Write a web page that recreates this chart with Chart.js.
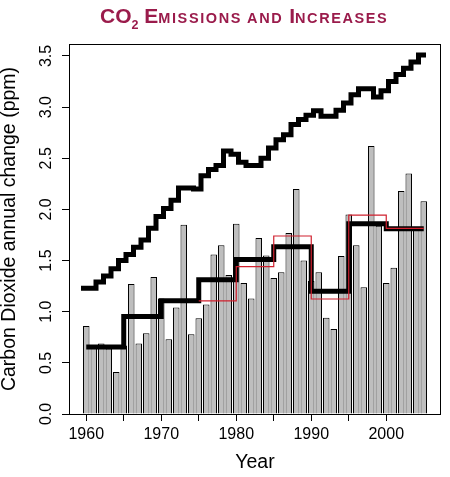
<!DOCTYPE html>
<html>
<head>
<meta charset="utf-8">
<script src="https://cdn.jsdelivr.net/npm/chart.js@4/dist/chart.umd.min.js"></script>
<style>
  html, body { margin: 0; padding: 0; background: #fff; }
  #wrap { position: relative; width: 450px; height: 477px; }
  #title {
    position: absolute; left: 100px; top: 5px;
    font: bold 21px "Liberation Sans", Arial, sans-serif;
    line-height: 21px; color: #9a1b4b; white-space: nowrap;
  }
  #title sub { font-size: 12.5px; vertical-align: -6px; line-height: 0; }
  #title .sc { font-size: 14.5px; text-transform: uppercase; letter-spacing: 1.6px; }
  canvas { position: absolute; left: 0; top: 0; }
</style>
</head>
<body>
<div id="wrap">
  <canvas id="c" width="450" height="477"></canvas>
  <div id="title">CO<sub>2</sub> E<span class="sc">missions and</span> I<span class="sc">ncreases</span></div>
</div>
<script>
// years of the annual record
var years = [1960, 1961, 1962, 1963, 1964, 1965, 1966, 1967, 1968, 1969,
             1970, 1971, 1972, 1973, 1974, 1975, 1976, 1977, 1978, 1979,
             1980, 1981, 1982, 1983, 1984, 1985, 1986, 1987, 1988, 1989,
             1990, 1991, 1992, 1993, 1994, 1995, 1996, 1997, 1998, 1999,
             2000, 2001, 2002, 2003, 2004, 2005];

// annual CO2 increase (ppm) - the grey bars
var increase = [0.86, 0.65, 0.69, 0.64, 0.41, 0.67, 1.27, 0.69, 0.79, 1.34,
                1.13, 0.73, 1.04, 1.85, 0.78, 0.935, 1.07, 1.56, 1.65, 1.36,
                1.86, 1.28, 1.13, 1.72, 1.55, 1.33, 1.385, 1.77, 2.20, 1.50,
                1.30, 1.385, 0.94, 0.83, 1.545, 1.95, 1.65, 1.24, 2.62, 1.84,
                1.28, 1.43, 2.18, 2.35, 1.81, 2.08];

// emissions, scaled to ppm - the upper staircase
var emissions = [1.23, 1.23, 1.29, 1.35, 1.42, 1.50, 1.56, 1.63, 1.70, 1.815,
                 1.93, 2.01, 2.09, 2.21, 2.21, 2.20, 2.33, 2.39, 2.43, 2.57,
                 2.54, 2.46, 2.43, 2.43, 2.50, 2.60, 2.68, 2.73, 2.83, 2.88,
                 2.92, 2.965, 2.91, 2.91, 2.97, 3.04, 3.12, 3.18, 3.18, 3.10,
                 3.16, 3.25, 3.32, 3.38, 3.44, 3.51];

// five year means of the increase (thick black steps)
var periodStarts = [1960, 1965, 1970, 1975, 1980, 1985, 1990, 1995, 2000];
var periodEnd = 2005;
var periodMeans = [0.655, 0.952, 1.107, 1.313, 1.51, 1.635, 1.20, 1.86, 1.81];

// red steps
var redStarts = [1975, 1980, 1985, 1990, 1995, 2000];
var redValues = [1.105, 1.44, 1.74, 1.124, 1.945, 1.815];

var xTickValues = [1960, 1965, 1970, 1975, 1980, 1985, 1990, 1995, 2000];
var xTickLabels = ['1960', '', '1970', '', '1980', '', '1990', '', '2000'];
var yTickValues = [0, 0.5, 1, 1.5, 2, 2.5, 3, 3.5];
var yTickLabels = ['0.0', '0.5', '1.0', '1.5', '2.0', '2.5', '3.0', '3.5'];

var FONT = '"Liberation Sans", Arial, sans-serif';
var emisShift = -0.7;   // the emission steps sit a bit left of the bars

function steps(xs, ys, xEnd) {
  var pts = xs.map(function (x, i) { return {x: x, y: ys[i]}; });
  pts.push({x: xEnd, y: ys[ys.length - 1]});
  return pts;
}

var barPts = years.map(function (y, i) { return {x: y, y: increase[i]}; });
var emisPts = steps(years.map(function (y) { return y + emisShift; }), emissions,
                    years[years.length - 1] + 1 + emisShift);
var meanPts = steps(periodStarts, periodMeans, periodEnd);
var redPts = steps(redStarts, redValues, periodEnd);

// box round the plot and the upright y labels, R style
var framePlugin = {
  id: 'frame',
  afterDraw: function (chart) {
    var ctx = chart.ctx, a = chart.chartArea, ys = chart.scales.y;
    ctx.save();
    ctx.strokeStyle = '#000';
    ctx.lineWidth = 1;
    ctx.strokeRect(Math.round(a.left) + 0.5, Math.round(a.top) + 0.5,
                   Math.round(a.right - a.left) - 1, Math.round(a.bottom - a.top));
    ctx.fillStyle = '#000';
    ctx.font = '16px ' + FONT;
    ctx.textAlign = 'center';
    ctx.textBaseline = 'alphabetic';
    yTickValues.forEach(function (v, i) {
      ctx.save();
      ctx.translate(a.left - 18, ys.getPixelForValue(v));
      ctx.rotate(-Math.PI / 2);
      ctx.fillText(yTickLabels[i], 0, 0);
      ctx.restore();
    });
    ctx.restore();
  }
};

new Chart(document.getElementById('c'), {
  data: {
    datasets: [
      {
        type: 'bar', data: barPts, order: 3,
        backgroundColor: '#bebebe', borderColor: '#000', borderWidth: 1,
        barPercentage: 0.87, categoryPercentage: 1
      },
      {
        type: 'line', data: emisPts, order: 1, stepped: true,
        borderColor: '#000', borderWidth: 5, pointRadius: 0,
        borderJoinStyle: 'miter', borderCapStyle: 'butt', fill: false
      },
      {
        type: 'line', data: meanPts, order: 1, stepped: true,
        borderColor: '#000', borderWidth: 5, pointRadius: 0,
        borderJoinStyle: 'miter', borderCapStyle: 'butt', fill: false
      },
      {
        type: 'line', data: redPts, order: 0, stepped: true,
        borderColor: '#d0202e', borderWidth: 1.2, pointRadius: 0, fill: false
      }
    ]
  },
  options: {
    responsive: false,
    animation: false,
    devicePixelRatio: 1,
    layout: { padding: { left: 0, right: 9, top: 44, bottom: 0 } },
    plugins: { legend: { display: false }, tooltip: { enabled: false } },
    scales: {
      x: {
        type: 'linear', min: 1957.7, max: 2007.3, offset: false,
        afterBuildTicks: function (s) { s.ticks = xTickValues.map(function (v) { return {value: v}; }); },
        afterFit: function (s) { s.height = 63; },
        ticks: {
          autoSkip: false, maxRotation: 0, color: '#000', padding: 4,
          font: { family: FONT, size: 16 },
          callback: function (v, i) { return xTickLabels[i]; }
        },
        grid: { drawOnChartArea: false, drawTicks: true, tickLength: 7, color: '#000', offset: false },
        border: { display: false },
        title: {
          display: true, text: 'Year', color: '#000',
          font: { family: FONT, size: 19.5, lineHeight: 1 },
          padding: { top: 0, bottom: 5 }
        }
      },
      y: {
        type: 'linear', min: 0, max: 3.617,
        afterBuildTicks: function (s) { s.ticks = yTickValues.map(function (v) { return {value: v}; }); },
        afterFit: function (s) { s.width = 69; },
        ticks: { display: false },
        grid: { drawOnChartArea: false, drawTicks: true, tickLength: 7, color: '#000' },
        border: { display: false },
        title: {
          display: true, text: 'Carbon Dioxide annual change (ppm)', color: '#000',
          font: { family: FONT, size: 19.5, lineHeight: 1 },
          padding: { top: 0, bottom: 0 }
        }
      }
    }
  },
  plugins: [framePlugin]
});
</script>
</body>
</html>
